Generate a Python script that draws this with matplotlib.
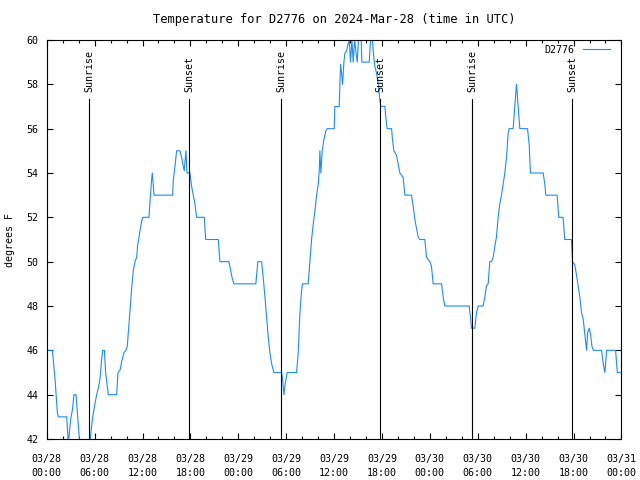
import numpy as np
import matplotlib.pyplot as plt

# hours since 2024-03-28 00:00 UTC
hours = [0.0, 0.71, 0.91, 1.04, 1.33, 1.46, 2.50, 2.71, 2.79, 3.0, 3.21, 3.42, 3.67, 3.84, 4.04, 4.3, 5.2,
         5.51, 5.76, 6.05, 6.26, 6.47, 6.67, 6.88, 7.01, 7.22, 7.38, 7.72, 8.76, 8.93, 9.18, 9.39, 9.68,
         9.93, 10.1, 10.22, 10.43, 10.64, 10.85, 11.06, 11.27, 11.39, 11.56, 11.68, 11.89, 12.02, 12.81,
         12.94, 13.14, 13.23, 13.44, 15.77, 15.86, 16.07, 16.27, 16.69, 16.9, 17.11, 17.23, 17.44, 17.57,
         17.94, 18.15, 18.36, 18.57, 18.78, 19.74, 19.91, 21.49, 21.7, 22.83, 23.04, 23.24, 23.45, 26.2,
         26.35, 26.45, 26.92, 27.13, 27.34, 27.54, 27.75, 27.96, 28.17, 28.46, 29.42, 29.55, 29.71, 29.88,
         30.13, 31.3, 31.51, 31.72, 31.93, 32.05, 32.76, 32.97, 33.18, 33.39, 33.6, 33.81, 34.02, 34.14,
         34.22, 34.35, 34.51, 34.72, 34.97, 35.14, 36.02, 36.1, 36.64, 36.73, 36.81, 36.94, 37.06, 37.23,
         37.35, 37.56, 37.77, 37.9, 38.06, 38.23, 38.4, 38.57, 38.9, 39.06, 39.4, 39.48, 40.4, 40.57,
         40.82, 40.9, 41.11, 41.32, 41.53, 41.74, 41.86, 42.36, 42.49, 42.65, 43.2, 43.32, 43.49, 43.82,
         44.03, 44.24, 44.66, 44.87, 45.7, 45.91, 46.12, 46.54, 46.74, 47.37, 47.58, 48.0, 48.2, 48.41,
         49.46, 49.67, 49.88, 52.92, 53.09, 53.21, 53.63, 53.84, 54.05, 54.67, 54.88, 55.09, 55.3, 55.51,
         55.72, 55.93, 56.14, 56.34, 56.55, 56.76, 56.97, 57.18, 57.39, 57.6, 57.81, 57.93, 58.43, 58.64,
         58.85, 59.06, 59.27, 60.23, 60.44, 60.6, 62.19, 62.4, 62.52, 63.94, 64.15, 64.69, 64.9, 65.74,
         65.87, 66.16, 66.37, 66.58, 66.79, 67.0, 67.21, 67.42, 67.63, 67.76, 67.97, 68.14, 68.3, 68.47,
         69.51, 69.72, 69.93, 70.14, 71.27, 71.48, 71.85]
temps = [46, 46, 45.2, 44.7, 43.2, 43, 43, 41.8, 42.1, 42.9, 43.3, 44, 44, 43.2, 42.2, 41.0, 41.0,
         42.2, 43, 43.6, 44, 44.3, 44.7, 45.6, 46, 46, 45, 44, 44, 45, 45.1, 45.5, 45.9,
         46, 46.2, 46.8, 47.75, 48.8, 49.6, 50, 50.2, 50.75, 51.1, 51.4, 51.8, 52, 52,
         52.7, 53.7, 54, 53, 53, 53.7, 54.3, 55, 55, 54.7, 54.3, 54.1, 55, 54,
         54, 53.4, 53, 52.6, 52, 52, 51, 51, 50, 50, 49.6, 49.25, 49, 49,
         49.6, 50, 50, 49.25, 48.4, 47.5, 46.6, 45.9, 45.4, 45, 45, 44.7, 44, 44.5,
         45, 45, 45.9, 47.7, 48.7, 49, 49, 50, 51, 51.7, 52.3, 53, 53.5, 54.1,
         55, 54, 55, 55.5, 55.9, 56, 56, 57, 57, 58, 58.9, 58.5, 58, 59,
         59.4, 59.5, 59.85, 60, 59, 60, 59, 60, 59, 60, 60, 59, 59, 60,
         60, 59.5, 58.8, 58.5, 58, 57.3, 57, 57, 56.5, 56, 56, 55.5, 55, 54.8,
         54.4, 54, 53.8, 53, 53, 52.5, 51.9, 51.1, 51, 51, 50.2, 50, 49.8, 49,
         49, 48.4, 48, 48, 47.5, 47, 47, 47.7, 48, 48, 48.4, 48.9, 49, 50,
         50, 50.2, 50.7, 51.1, 52, 52.6, 53, 53.5, 54, 54.7, 55.8, 56, 56, 57,
         58, 57, 56, 56, 55.3, 54, 54, 53.5, 53, 53, 52, 52, 51, 51,
         50, 49.85, 49.4, 48.9, 48.4, 47.7, 47.4, 46.7, 46, 46.8, 47, 46.7, 46.2, 46,
         46, 45.4, 45, 46, 46, 45, 45]

sunrise = [5.3, 29.38, 53.3]
sunset = [17.86, 41.77, 65.82]

tick_hours = list(range(0, 73, 6))
tick_days = ['03/28'] * 4 + ['03/29'] * 4 + ['03/30'] * 4 + ['03/31']
tick_times = ['00:00', '06:00', '12:00', '18:00'] * 3 + ['00:00']

plt.rcParams['font.family'] = ['DejaVu Sans Mono']
plt.rcParams['font.size'] = 7.2

fig = plt.figure(figsize=(6.4, 4.8), dpi=100)
ax = fig.add_axes([0.073, 0.0854, 0.898, 0.8313])

ax.plot(hours, temps, color='#1a8cff', lw=0.8, label='D2776')

for h in sunrise:
    ax.axvline(h, ymin=0, ymax=0.852, color='black', lw=0.8)
    ax.text(h, 0.87, 'Sunrise', transform=ax.get_xaxis_transform(), rotation=90,
            ha='center', va='bottom')
for h in sunset:
    ax.axvline(h, ymin=0, ymax=0.852, color='black', lw=0.8)
    ax.text(h, 0.87, 'Sunset', transform=ax.get_xaxis_transform(), rotation=90,
            ha='center', va='bottom')

ax.set_xlim(0, 72)
ax.set_ylim(42, 60)
ax.set_xticks(tick_hours)
ax.set_xticklabels([d + '\n' + t for d, t in zip(tick_days, tick_times)], linespacing=1.5)
ax.set_xticks(range(0, 73, 2), minor=True)
ax.set_yticks(range(42, 61, 2))
ax.tick_params(which='both', direction='in', top=True, right=True, width=0.8)
ax.tick_params(which='major', length=4)
ax.tick_params(which='minor', length=2)
ax.tick_params(axis='x', pad=11)
ax.tick_params(axis='y', pad=6)
for s in ax.spines.values():
    s.set_linewidth(0.8)

ax.set_title('Temperature for D2776 on 2024-Mar-28 (time in UTC)', pad=12)
fig.text(10 / 640, 0.5, 'degrees F', rotation=90, ha='center', va='center')

ax.legend(loc='upper right', bbox_to_anchor=(0.988, 1.0), markerfirst=False, frameon=False,
          handlelength=2.7, handletextpad=0.8, borderaxespad=0.2, borderpad=0.3)

plt.savefig('out.png', dpi=100)
